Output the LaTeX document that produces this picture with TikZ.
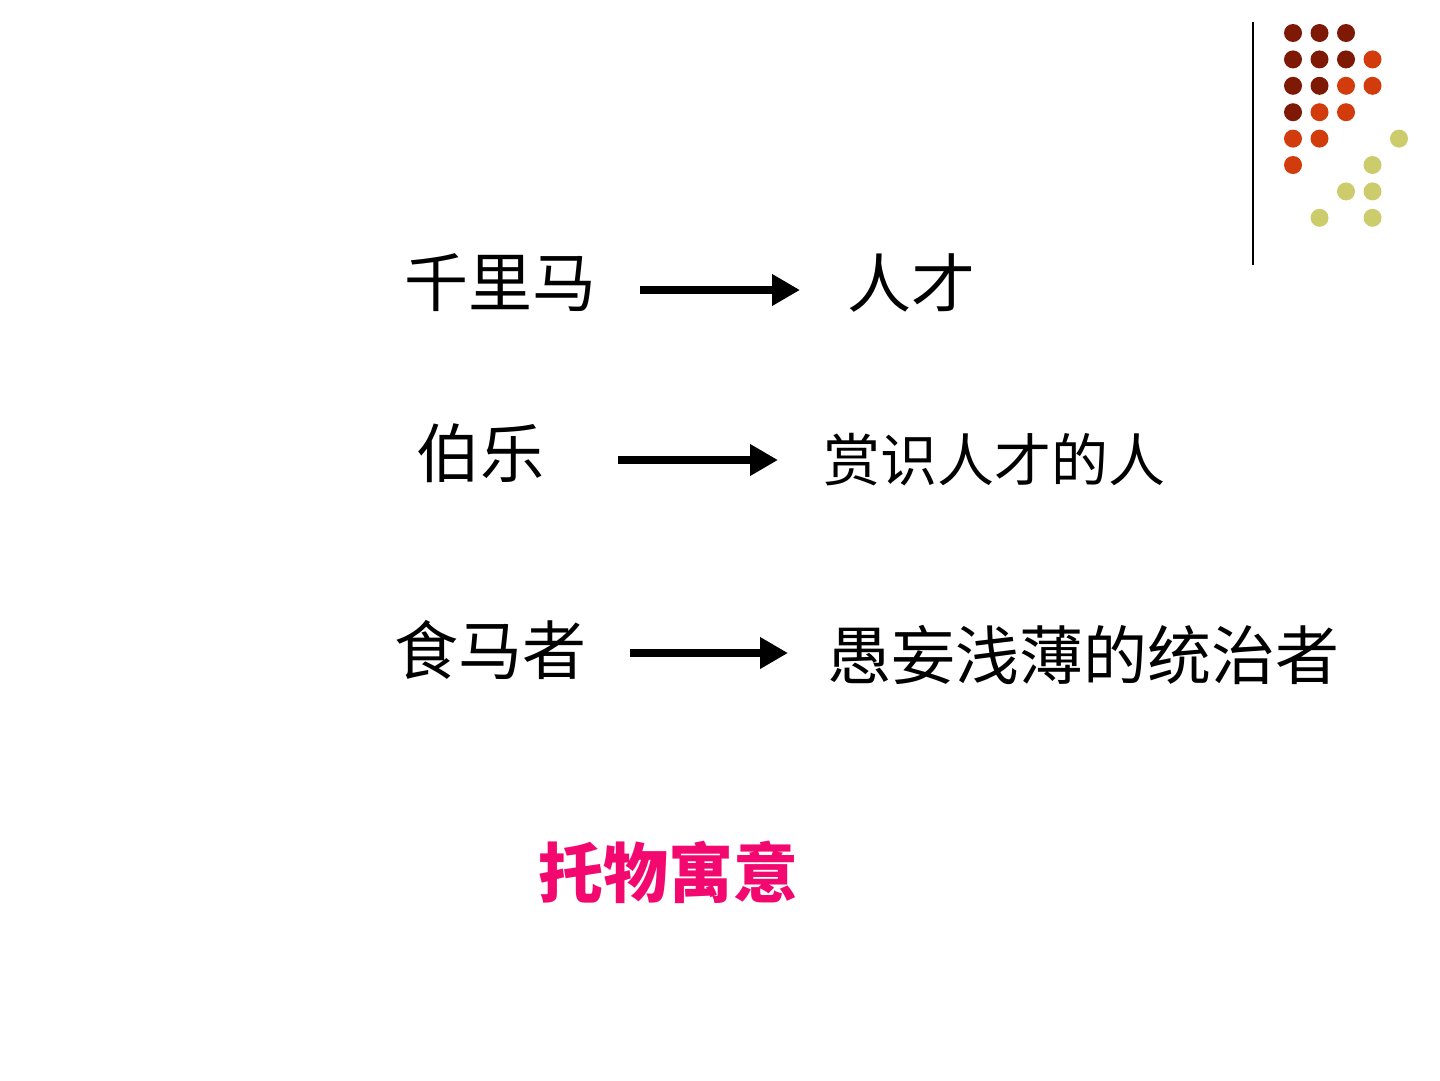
\documentclass[tikz,border=0pt]{standalone}
\usepackage{fontspec}
\newfontfamily\cjk{Noto Sans CJK SC}
\usetikzlibrary{arrows.meta, positioning}
\definecolor{dotdark}{RGB}{125,25,5}
\definecolor{dotred}{RGB}{210,60,12}
\definecolor{dotolive}{RGB}{204,204,108}
\definecolor{titlepink}{RGB}{242,8,110}

\begin{document}
\begin{tikzpicture}[x=1pt,y=-1pt]
\tikzset{word/.style={font=\cjk\fontsize{64}{64}\selectfont, inner sep=0pt},
  smallword/.style={font=\cjk\fontsize{57}{57}\selectfont, inner sep=0pt},
  maps/.style={line width=8pt, -{Triangle[length=28pt,width=30pt]}},
  dot/.style={circle, inner sep=0pt, minimum size=18pt}}
\useasboundingbox (0,0) rectangle (1440,1080);
\node[word] (horse) at (500,283) {千里马};
\node[word] (talent) at (911,283) {人才};
\node[word] (bole) at (480,453) {伯乐};
\node[smallword] (judge) at (994,460) {赏识人才的人};
\node[word] (feeder) at (490,650) {食马者};
\node[word] (ruler) at (1083,655) {愚妄浅薄的统治者};
\node[font=\cjk\bfseries\fontsize{65}{65}\selectfont, text=titlepink, inner sep=0pt] (moral) at (668,872) {托物寓意};
\coordinate (a1) at (640,290);
\coordinate (b1) at (800,290);
\coordinate (a2) at (618,460);
\coordinate (b2) at (778,460);
\coordinate (a3) at (630,653);
\coordinate (b3) at (788,653);
\draw[maps] (a1) -- (b1);
\draw[maps] (a2) -- (b2);
\draw[maps] (a3) -- (b3);
% corner ornament
\coordinate (rtop) at (1253,22);
\coordinate (rbot) at (1253,265);
\draw[line width=1.5pt] (rtop) -- (rbot);
\foreach \c/\r/\col in {0/0/dotdark,1/0/dotdark,2/0/dotdark,
  0/1/dotdark,1/1/dotdark,2/1/dotdark,3/1/dotred,
  0/2/dotdark,1/2/dotdark,2/2/dotred,3/2/dotred,
  0/3/dotdark,1/3/dotred,2/3/dotred,
  0/4/dotred,1/4/dotred,4/4/dotolive,
  0/5/dotred,3/5/dotolive,
  2/6/dotolive,3/6/dotolive,
  1/7/dotolive,3/7/dotolive}
  \node[dot, fill=\col] (d\c\r) at ({1293+26.5*\c},{33+26.4*\r}) {};
\end{tikzpicture}
\end{document}
